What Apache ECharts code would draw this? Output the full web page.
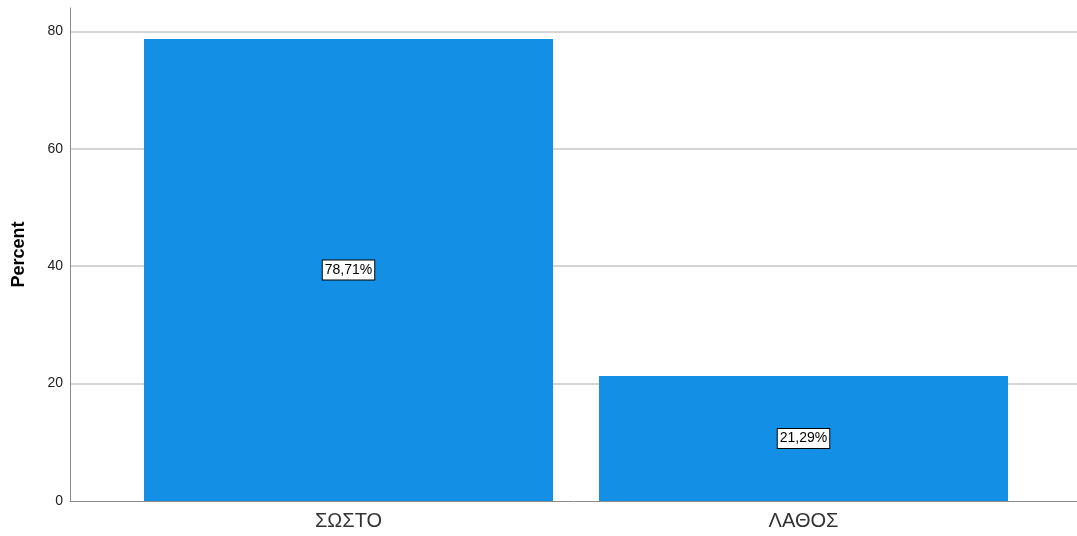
<!DOCTYPE html>
<html>
<head>
<meta charset="utf-8">
<script src="https://cdn.jsdelivr.net/npm/echarts@6/dist/echarts.min.js"></script>
<style>
  html, body { margin: 0; padding: 0; background: #fff; }
  #chart { width: 1077px; height: 536px; }
</style>
</head>
<body>
<div id="chart"></div>
<script>
// categories and percentages
var categories = ['ΣΩΣΤΟ', 'ΛΑΘΟΣ']
var percents = [78.71, 21.29]

var chart = echarts.init(document.getElementById('chart'))

chart.setOption({
  animation: false,
  textStyle: { fontFamily: 'Liberation Sans, Arial, sans-serif' },
  grid: [
    // frame grid: y axis, split lines, x axis line
    { left: 70, right: 0, top: 8, bottom: 35 },
    // bars grid: categories are centred a bit differently than the frame
    { left: 121, right: 46, top: 8, bottom: 35 }
  ],
  xAxis: [
    {
      gridIndex: 0,
      type: 'value',
      min: 0,
      max: 1,
      axisLine: { show: true, lineStyle: { color: '#8a8a8a', width: 1 } },
      axisTick: { show: false },
      axisLabel: { show: false },
      splitLine: { show: false }
    },
    {
      gridIndex: 1,
      type: 'category',
      data: categories,
      axisLine: { show: false },
      axisTick: { show: false },
      axisLabel: { fontSize: 20, color: '#333', margin: 10 }
    }
  ],
  yAxis: [
    {
      gridIndex: 0,
      type: 'value',
      min: 0,
      max: 84,
      interval: 20,
      name: 'Percent',
      nameLocation: 'middle',
      nameGap: 42,
      nameTextStyle: { fontSize: 18, fontWeight: 'bold', color: '#000' },
      axisLine: { show: true, lineStyle: { color: '#8a8a8a', width: 1 } },
      axisTick: { show: false },
      axisLabel: { fontSize: 14, color: '#222', margin: 7, showMaxLabel: false },
      splitLine: {
        show: true,
        showMinLine: false,
        showMaxLine: false,
        lineStyle: { color: '#d4d4d4', width: 2 }
      }
    },
    {
      gridIndex: 1,
      type: 'value',
      min: 0,
      max: 84,
      show: false
    }
  ],
  series: [
    {
      type: 'bar',
      xAxisIndex: 1,
      yAxisIndex: 1,
      barWidth: 409,
      data: percents,
      itemStyle: { color: '#1390e6' },
      label: {
        show: true,
        position: 'inside',
        formatter: function (p) {
          return p.value.toFixed(2).replace('.', ',') + '%'
        },
        fontSize: 14,
        color: '#000',
        backgroundColor: '#fff',
        borderColor: '#000',
        borderWidth: 1,
        padding: [3, 2, 2, 2]
      }
    }
  ]
})
</script>
</body>
</html>
